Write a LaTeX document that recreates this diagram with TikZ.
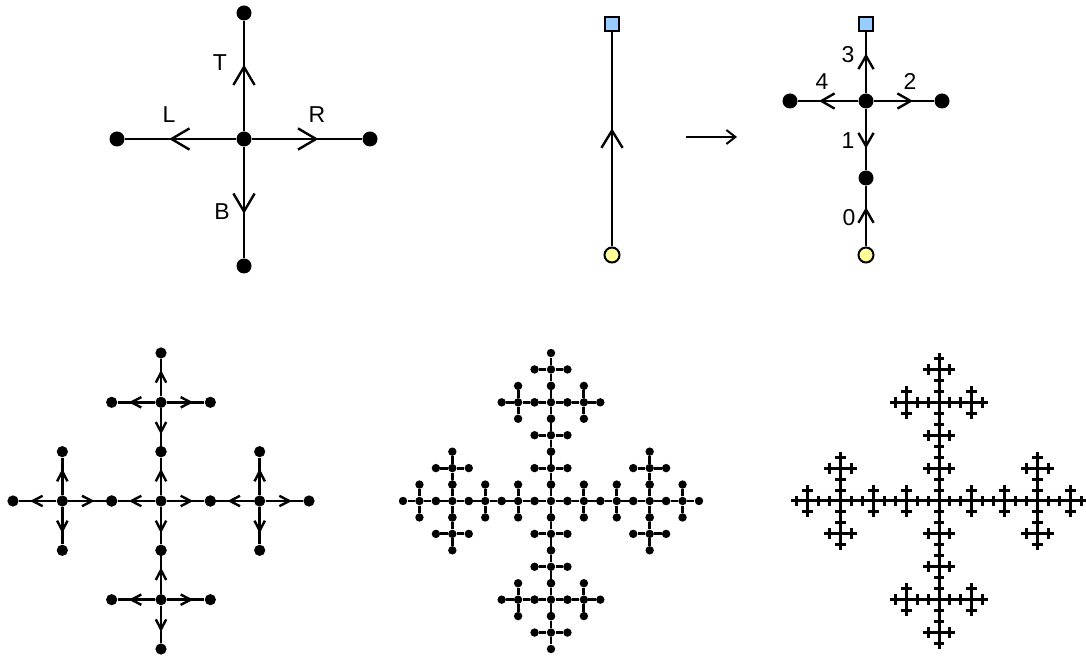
\documentclass[tikz,border=0pt]{standalone}
\usepackage{fontspec}
\setmainfont{Liberation Sans}
\usepackage{tikz}
\usetikzlibrary{arrows.meta,calc,positioning,decorations.markings}
\definecolor{srcyellow}{RGB}{255,255,153}
\definecolor{dstblue}{RGB}{153,204,255}

\begin{document}
\begin{tikzpicture}[
  x=0.5pt,y=-0.5pt,
  dot/.style={circle,fill,inner sep=0pt,minimum size=7.5pt},
  sdot/.style={circle,fill,inner sep=0pt,minimum size=5.6pt},
  tdot/.style={circle,fill,inner sep=0pt,minimum size=4.2pt},
  src/.style={circle,draw,fill=srcyellow,line width=1pt,inner sep=0pt,minimum size=7.5pt},
  dst/.style={rectangle,draw,fill=dstblue,line width=1pt,inner sep=0pt,minimum size=7pt},
  edge/.style={line width=1.35pt},
  chev/.style 2 args={postaction={decorate,decoration={markings,
    mark=at position .5 with {\draw[line width=1.2pt] (-#1,#2) -- (#1,0pt) -- (-#1,-#2);}}}},
  lbl/.style={font=\fontsize{11.5pt}{13pt}\selectfont,inner sep=0pt}
]
\useasboundingbox (0,0) rectangle (1086,656);

% generator: one cross
\node[dot] (c) at (244,139) {};
\node[dot] (t) at (244,13) {};
\node[dot] (b) at (244,266) {};
\node[dot] (l) at (117,139) {};
\node[dot] (r) at (370,139) {};
\draw[edge,chev={4.5pt}{5.3pt}] (c) -- (t);
\draw[edge,chev={4.5pt}{5.3pt}] (c) -- (b);
\draw[edge,chev={4.5pt}{5.3pt}] (c) -- (l);
\draw[edge,chev={4.5pt}{5.3pt}] (c) -- (r);
\node[lbl] (lT) at (220,63) {T};
\node[lbl] (lL) at (169,115) {L};
\node[lbl] (lR) at (317,115) {R};
\node[lbl] (lB) at (222,212) {B};

% rewriting rule
\node[src] (s0) at (612,255) {};
\node[dst] (d0) at (612,24) {};
\draw[edge,chev={4.3pt}{5.3pt}] (s0) -- (d0);
\coordinate (a0) at (686,137);
\coordinate (a1) at (737,137);
\draw[line width=1pt,-{Straight Barb[length=4.5pt,width=7pt]}] (a0) -- (a1);

\node[src] (s1) at (866,255) {};
\node[dot] (m1) at (866,178) {};
\node[dot] (c1) at (866,101) {};
\node[dst] (d1) at (866,24) {};
\node[dot] (l1) at (790,101) {};
\node[dot] (r1) at (942,101) {};
\draw[edge,chev={3.3pt}{3.8pt}] (s1) -- (m1);
\draw[edge,chev={3.3pt}{3.8pt}] (c1) -- (m1);
\draw[edge,chev={3.3pt}{3.8pt}] (c1) -- (r1);
\draw[edge,chev={3.3pt}{3.8pt}] (c1) -- (d1);
\draw[edge,chev={3.3pt}{3.8pt}] (c1) -- (l1);
\node[lbl] (n0) at (849,218) {0};
\node[lbl] (n1) at (848,141) {1};
\node[lbl] (n2) at (910,81) {2};
\node[lbl] (n3) at (848,55) {3};
\node[lbl] (n4) at (822,82) {4};

% second iteration
\begin{scope}[shift={(161,501)},x=24.67pt,y=-24.67pt]
\foreach \ax/\ay in {0/0,1/0,-1/0,0/1,0/-1} {
  \node[sdot] (p) at (2*\ax,2*\ay) {};
  \foreach \ex/\ey [count=\k] in {1/0,-1/0,0/1,0/-1} {
    \node[sdot] (p\k) at (2*\ax+\ex,2*\ay+\ey) {};
    \draw[edge,chev={2.5pt}{2.6pt}] (p) -- (p\k);
  }
}
\end{scope}

% third iteration
\begin{scope}[shift={(551,501)},x=8.222pt,y=-8.222pt]
\foreach \ax/\ay in {0/0,1/0,-1/0,0/1,0/-1} {
  \foreach \bx/\by in {0/0,1/0,-1/0,0/1,0/-1} {
    \node[tdot] (q) at (6*\ax+2*\bx,6*\ay+2*\by) {};
    \foreach \ex/\ey [count=\k] in {1/0,-1/0,0/1,0/-1} {
      \node[tdot] (q\k) at (6*\ax+2*\bx+\ex,6*\ay+2*\by+\ey) {};
      \draw[line width=1.4pt] (q) -- (q\k);
    }
  }
}
\end{scope}

% fourth iteration
\begin{scope}[shift={(939,501)},x=2.74pt,y=-2.74pt]
\foreach \ax/\ay in {0/0,1/0,-1/0,0/1,0/-1} {
  \foreach \bx/\by in {0/0,1/0,-1/0,0/1,0/-1} {
    \foreach \cx/\cy in {0/0,1/0,-1/0,0/1,0/-1} {
      \coordinate (w) at (18*\ax+6*\bx+2*\cx,18*\ay+6*\by+2*\cy);
      \coordinate (wh) at ($(w)+(-1,0)$);
      \coordinate (wv) at ($(w)+(0,-1)$);
      \draw[line width=1.5pt] (wh) -- ++(2,0);
      \draw[line width=1.5pt] (wv) -- ++(0,2);
    }
  }
}
\end{scope}
\end{tikzpicture}
\end{document}
